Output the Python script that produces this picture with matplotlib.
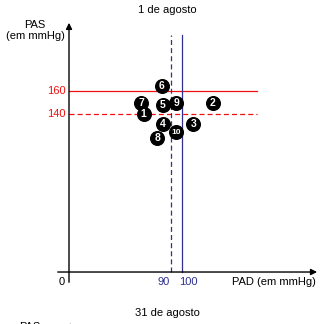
import matplotlib
matplotlib.use("Agg")
import matplotlib.pyplot as plt

plt.rcParams['font.family'] = ['Liberation Sans', 'DejaVu Sans']

# patients: label, PAD, PAS
labels = ['1', '2', '3', '4', '5', '6', '7', '8', '9', '10']
pad = [66, 127, 110, 83, 83, 82, 64, 78, 95, 95]
pas = [140, 150, 131, 131, 148, 165, 150, 119, 150, 124]

pas_limits = [160, 140]
pad_limits = [90, 100]

red = '#f01010'
blue = '#2e3192'

fig = plt.figure(figsize=(3.27, 3.24), dpi=100)
ax = fig.add_axes([0, 0, 1, 1])
ax.set_xlim(-61.06, 228.3)
ax.set_ylim(-46.0, 240.7)
ax.axis('off')

# axes with arrows
ax.annotate('', xy=(222, 0), xytext=(-12.4, 0),
            arrowprops=dict(arrowstyle='-|>', color='k', lw=1.0, mutation_scale=9))
ax.annotate('', xy=(0, 223), xytext=(0, -11.5),
            arrowprops=dict(arrowstyle='-|>', color='k', lw=1.0, mutation_scale=9))

# reference lines
ax.plot([0, 166], [pas_limits[0]] * 2, color=red, lw=0.9)
ax.plot([0, 166], [pas_limits[1]] * 2, color=red, lw=0.9, ls=(0, (4, 2.5)))
ax.plot([pad_limits[0]] * 2, [0, 210], color=blue, lw=0.9, ls=(0, (4, 2.5)))
ax.plot([pad_limits[1]] * 2, [0, 210], color=blue, lw=0.9)

# tick labels
fs = 8
ax.text(-3, 160, '160', color=red, fontsize=fs, ha='right', va='center')
ax.text(-3, 140, '140', color=red, fontsize=fs, ha='right', va='center')
ax.text(89.5, -8.5, '90', color=blue, fontsize=fs, ha='right', va='center')
ax.text(97.5, -8.5, '100', color=blue, fontsize=fs, ha='left', va='center')
ax.text(-3.5, -8.5, '0', color='k', fontsize=fs, ha='right', va='center')
ax.text(144, -8.5, 'PAD (em mmHg)', fontsize=fs, ha='left', va='center')
ax.text(-30, 214, 'PAS\n(em mmHg)', fontsize=fs, ha='center', va='center',
        linespacing=1.15)

# points
for lab, x, y in zip(labels, pad, pas):
    ax.plot(x, y, 'o', color='k', ms=9.8, zorder=3)
    ax.text(x, y - 0.3, lab, color='white', fontsize=7.5 if len(lab) == 1 else 6,
            fontweight='bold', ha='center', va='center', zorder=4)

fig.text(167 / 327, 1 - 10 / 324, '1 de agosto', fontsize=fs, ha='center', va='center')
fig.text(167 / 327, 1 - 313 / 324, '31 de agosto', fontsize=fs, ha='center', va='center')
fig.text(30 / 327, 1 - 327 / 324, 'PAS', fontsize=fs, ha='center', va='center')
fig.text(69.5 / 327, 1 - 326 / 324, '\u25b2', fontsize=6, ha='center', va='center')

fig.savefig('out.png', dpi=100)
